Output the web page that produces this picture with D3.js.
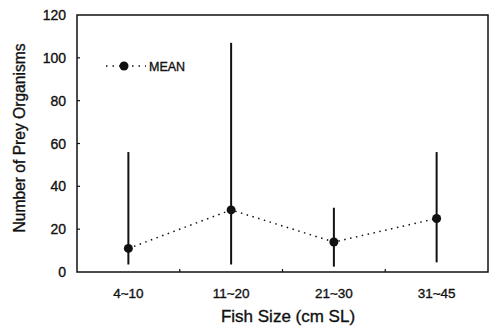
<!DOCTYPE html>
<html>
<head>
<meta charset="utf-8">
<script src="https://cdn.jsdelivr.net/npm/d3@7/dist/d3.min.js"></script>
<style>
  body { margin: 0; background: #fff; }
  text { font-family: "Liberation Sans", Arial, sans-serif; fill: #111; stroke: #111; stroke-width: 0.35; }
</style>
</head>
<body>
<svg id="chart" width="490" height="326"></svg>
<script>
// data
const sizes = ["4~10", "11~20", "21~30", "31~45"];
const meanPrey = [11, 29, 14, 25];
const barLow = [3.5, 3.5, 2.5, 4.5];
const barHigh = [56, 107, 30, 56];
const yTicks = [0, 20, 40, 60, 80, 100, 120];

const svg = d3.select("#chart"),
  plotL = 77, plotR = 488, plotT = 15, plotB = 272;

const x = d3.scaleBand().domain(sizes).range([plotL, plotR]);
const y = d3.scaleLinear().domain([0, 120]).range([plotB, plotT]);
const cx = (d) => x(d) + x.bandwidth() / 2;

// frame
svg.append("rect")
  .attr("x", plotL).attr("y", plotT)
  .attr("width", plotR - plotL).attr("height", plotB - plotT)
  .attr("fill", "none").attr("stroke", "#111").attr("stroke-width", 1.5);

// y axis labels + little inner ticks
svg.append("g").selectAll("text")
  .data(yTicks).enter().append("text")
  .attr("x", plotL - 11).attr("y", (d) => y(d) + 5)
  .attr("text-anchor", "end").attr("font-size", 14)
  .text((d) => d);

svg.append("g").selectAll("line")
  .data(yTicks.slice(1, -1)).enter().append("line")
  .attr("x1", plotL).attr("x2", plotL + 3)
  .attr("y1", (d) => y(d)).attr("y2", (d) => y(d))
  .attr("stroke", "#111").attr("stroke-width", 1.2);

// small inner ticks between categories
svg.append("g").selectAll("line")
  .data(sizes.slice(1)).enter().append("line")
  .attr("x1", (d) => x(d)).attr("x2", (d) => x(d))
  .attr("y1", plotB).attr("y2", plotB - 3)
  .attr("stroke", "#111").attr("stroke-width", 1.2);

// category labels
svg.append("g").selectAll("text")
  .data(sizes).enter().append("text")
  .attr("x", cx).attr("y", plotB + 26)
  .attr("text-anchor", "middle").attr("font-size", 13.5)
  .text((d) => d);

// axis titles
svg.append("text")
  .attr("x", 288).attr("y", 322)
  .attr("text-anchor", "middle").attr("font-size", 17)
  .text("Fish Size (cm SL)");

svg.append("text")
  .attr("transform", "translate(25,138) rotate(-90)")
  .attr("text-anchor", "middle").attr("font-size", 15.6)
  .text("Number of Prey Organisms");

// error bars
svg.append("g").selectAll("line")
  .data(sizes).enter().append("line")
  .attr("x1", cx).attr("x2", cx)
  .attr("y1", (d, i) => y(barLow[i])).attr("y2", (d, i) => y(barHigh[i]))
  .attr("stroke", "#111").attr("stroke-width", 2);

// mean line
const line = d3.line().x((d, i) => cx(sizes[i])).y((d) => y(d));
svg.append("path")
  .attr("d", line(meanPrey))
  .attr("fill", "none").attr("stroke", "#111")
  .attr("stroke-width", 1.5).attr("stroke-dasharray", "1.5,4.5");

svg.append("g").selectAll("circle")
  .data(meanPrey).enter().append("circle")
  .attr("cx", (d, i) => cx(sizes[i])).attr("cy", (d) => y(d))
  .attr("r", 4.5).attr("fill", "#111");

// legend
const leg = svg.append("g");
leg.append("line")
  .attr("x1", 106).attr("x2", 146).attr("y1", 66).attr("y2", 66)
  .attr("stroke", "#111").attr("stroke-width", 1.5).attr("stroke-dasharray", "1.5,5");
leg.append("circle").attr("cx", 124).attr("cy", 66).attr("r", 4.5).attr("fill", "#111");
leg.append("text").attr("x", 149).attr("y", 71).attr("font-size", 12.5).text("MEAN");
</script>
</body>
</html>
